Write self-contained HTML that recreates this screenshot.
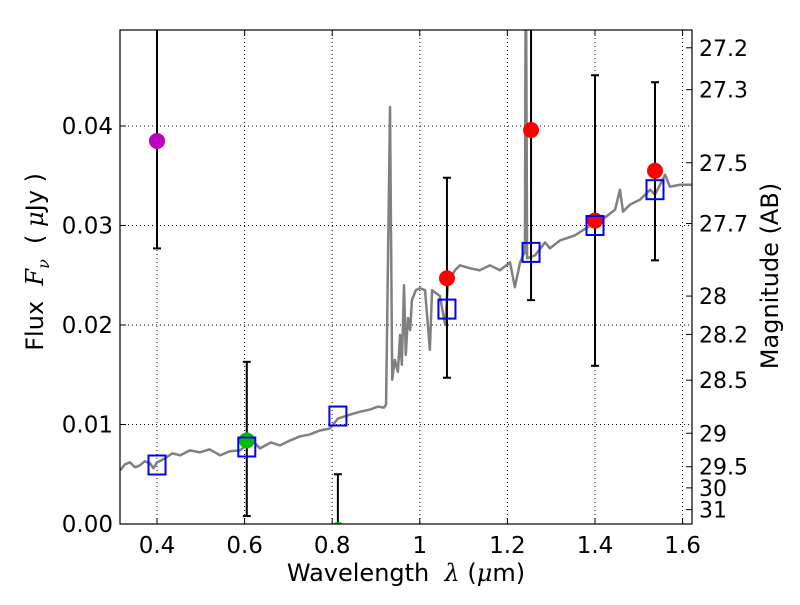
<!DOCTYPE html>
<html><head><meta charset="utf-8"><style>
body{margin:0;background:#fff}
svg text{font-family:"DejaVu Sans","Liberation Sans",sans-serif}
</style></head><body>
<svg id="c" width="800" height="600" xmlns="http://www.w3.org/2000/svg"></svg>
<script>
const specLam=[0.316,0.327,0.338,0.350,0.361,0.372,0.384,0.392,0.4,0.410,0.418,0.435,0.453,0.475,0.498,0.520,0.544,0.565,0.589,0.605,0.620,0.635,0.660,0.681,0.704,0.726,0.749,0.772,0.795,0.813,0.841,0.865,0.886,0.905,0.918,0.923,0.932,0.937,0.943,0.950,0.955,0.959,0.964,0.968,0.973,0.978,0.982,0.991,1.000,1.012,1.023,1.028,1.046,1.058,1.064,1.080,1.092,1.115,1.137,1.160,1.183,1.206,1.217,1.229,1.236,1.240,1.242,1.245,1.263,1.286,1.297,1.320,1.354,1.389,1.411,1.446,1.457,1.464,1.480,1.503,1.526,1.537,1.560,1.571,1.594,1.621];
const specFlux=[0.0054,0.0060,0.0062,0.0057,0.0059,0.0063,0.0061,0.0056,0.0062,0.0064,0.0066,0.0071,0.0069,0.0074,0.0072,0.0075,0.0069,0.0073,0.0074,0.0079,0.0083,0.0076,0.0082,0.0079,0.0084,0.0088,0.0090,0.0094,0.0096,0.0106,0.0110,0.0113,0.0115,0.0118,0.0117,0.0120,0.0419,0.0145,0.0165,0.0153,0.0190,0.0160,0.0240,0.0170,0.0207,0.0195,0.0225,0.0235,0.0237,0.0235,0.0175,0.0235,0.0229,0.0200,0.0240,0.0255,0.0260,0.0257,0.0255,0.0260,0.0255,0.0263,0.0238,0.0263,0.0270,0.0273,0.0600,0.0267,0.0270,0.0283,0.0277,0.0285,0.0290,0.0300,0.0304,0.0316,0.0336,0.0314,0.0321,0.0326,0.0336,0.0331,0.0351,0.0339,0.0341,0.0341];
const bandLam=[0.400,0.605,0.813,1.062,1.254,1.400,1.537];
const modelFlux=[0.00593,0.00774,0.01085,0.0216,0.0273,0.0300,0.0336];
const obsFlux=[0.0385,0.0084,-0.0006,0.0247,0.0396,0.0305,0.0355];
const errLo=[0.0277,0.0008,-0.005,0.0147,0.0225,0.0159,0.0265];
const errHi=[0.0500,0.0163,0.0050,0.0348,0.0600,0.0451,0.0444];
const obsColor=['#bf00bf','#00bf00','#00bf00','#ff0000','#ff0000','#ff0000','#ff0000'];
const xTicks=[0.4,0.6,0.8,1.0,1.2,1.4,1.6];
const xTickLabels=['0.4','0.6','0.8','1','1.2','1.4','1.6'];
const yTicks=[0,0.01,0.02,0.03,0.04];
const yTickLabels=['0.00','0.01','0.02','0.03','0.04'];
const magTicks=[27.2,27.3,27.5,27.7,28,28.2,28.5,29,29.5,30,31];
const magLabels=['27.2','27.3','27.5','27.7','28','28.2','28.5','29','29.5','30','31'];

const L=120,R=692,T=30,B=524;
const xmin=0.3155,xmax=1.6215,ymin=0,ymax=0.04965;
const X=v=>L+(v-xmin)/(xmax-xmin)*(R-L);
const Y=v=>B-(v-ymin)/(ymax-ymin)*(B-T);
const NS='http://www.w3.org/2000/svg';
const svg=document.getElementById('c');
function mk(tag,attrs,parent){const e=document.createElementNS(NS,tag);for(const k in attrs)e.setAttribute(k,attrs[k]);(parent||svg).appendChild(e);return e;}
const defs=mk('defs',{});const cp=mk('clipPath',{id:'pc'},defs);mk('rect',{x:L,y:T,width:R-L,height:B-T},cp);
const grid=mk('g',{stroke:'#000','stroke-width':1,'stroke-dasharray':'1,3'});


xTicks.forEach(t=>{mk('line',{x1:X(t),x2:X(t),y1:T,y2:B},grid);});
yTicks.forEach(t=>{mk('line',{x1:L,x2:R,y1:Y(t),y2:Y(t)},grid);});
const plot=mk('g',{'clip-path':'url(#pc)'});
const sp=mk('polyline',{points:specLam.map((l,i)=>X(l)+','+Y(specFlux[i])).join(' '),fill:'none',stroke:'#808080','stroke-width':2.5,'stroke-linejoin':'round'},plot);


bandLam.forEach((l,i)=>{
 const eb=mk('g',{stroke:'#000','stroke-width':2},plot);
 
 
 mk('line',{x1:X(l),x2:X(l),y1:Y(errLo[i]),y2:Y(errHi[i])},eb);
 mk('line',{x1:X(l)-4,x2:X(l)+4,y1:Y(errLo[i]),y2:Y(errLo[i])},eb);
 mk('line',{x1:X(l)-4,x2:X(l)+4,y1:Y(errHi[i]),y2:Y(errHi[i])},eb);
});
bandLam.forEach((l,i)=>{
 const c=mk('circle',{cx:X(l),cy:Y(obsFlux[i]),r:8,fill:obsColor[i]},plot);
 
 
});
bandLam.forEach((l,i)=>{
 const s=mk('rect',{x:X(l)-8.5,y:Y(modelFlux[i])-9.5,width:17,height:19,fill:'none',stroke:'#0000ff','stroke-width':2},plot);
 
 
});
const fr=mk('rect',{x:L,y:T,width:R-L,height:B-T,fill:'none',stroke:'#000','stroke-width':1.2});


xTicks.forEach((t,i)=>{
 mk('line',{x1:X(t),x2:X(t),y1:B,y2:B-6,stroke:'#000'});mk('line',{x1:X(t),x2:X(t),y1:T,y2:T+6,stroke:'#000'});
 const tx=mk('text',{x:X(t),y:B+29,'font-size':23,'text-anchor':'middle'});tx.textContent=xTickLabels[i];
 
 
});
yTicks.forEach((t,i)=>{
 mk('line',{x1:L,x2:L+6,y1:Y(t),y2:Y(t),stroke:'#000'});
 const tx=mk('text',{x:L-7,y:Y(t)+8,'font-size':23,'text-anchor':'end'});tx.textContent=yTickLabels[i];
 
 
});
magTicks.forEach((m,i)=>{
 const y=Y(Math.pow(10,(23.9-m)/2.5));
 mk('line',{x1:R,x2:R-6,y1:y,y2:y,stroke:'#000'});
 const tx=mk('text',{x:R+7,y:y+8,'font-size':22});tx.textContent=magLabels[i];
 
 
});
</script>
<div style="position:absolute;left:0;top:0;width:800px;height:600px;pointer-events:none;font-family:'DejaVu Sans','Liberation Sans',sans-serif">
<div style="position:absolute;left:0;width:812px;top:559px;text-align:center;font-size:24px">Wavelength &nbsp;<i style="font-family:'DejaVu Serif',serif">λ</i> (<i style="font-family:'DejaVu Serif',serif">μ</i>m)</div>
<div style="position:absolute;left:-113px;top:246px;width:300px;text-align:center;font-size:24px;transform:rotate(-90deg)">Flux &nbsp;<i style="font-family:'DejaVu Serif',serif">F<sub style="font-size:16px">ν</sub></i> &nbsp;( <i style="font-family:'DejaVu Serif',serif">μ</i>Jy )</div>
<div style="position:absolute;left:620px;top:262px;width:300px;text-align:center;font-size:24px;transform:rotate(-90deg)">Magnitude (AB)</div>
</div>
</body></html>
